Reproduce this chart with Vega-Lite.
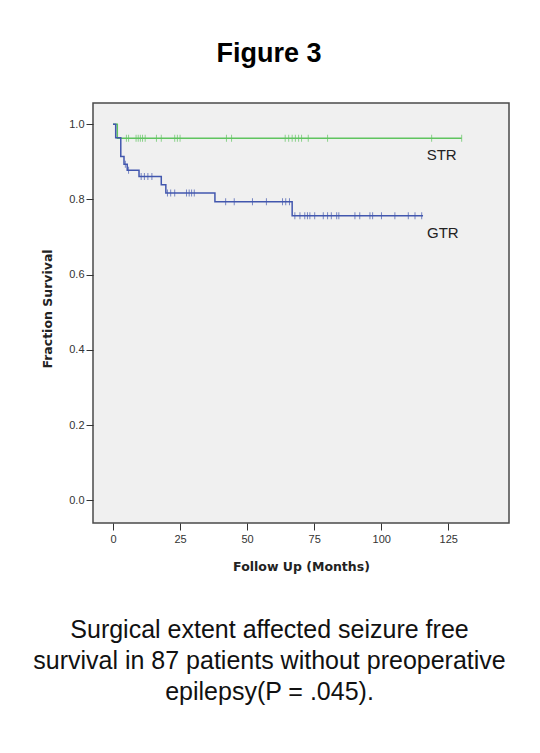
{
  "$schema": "https://vega.github.io/schema/vega-lite/v6.json",
  "width": 416,
  "height": 420,
  "autosize": {"type": "none"},
  "padding": {"left": 93, "top": 103, "right": 31, "bottom": 230},
  "background": "white",
  "view": {"fill": "#f0f0f0", "stroke": "#4a4a4a", "strokeWidth": 1.5},
  "title": {"text": "Figure 3", "font": "Liberation Sans", "fontSize": 27, "fontWeight": "bold", "color": "#000000", "anchor": "middle", "frame": "group", "dx": -32, "baseline": "alphabetic", "offset": 14.5},
  "datasets": {
    "curves": [
      {"group": "STR", "month": 0, "surv": 1.0},
      {"group": "STR", "month": 1.6, "surv": 0.963},
      {"group": "STR", "month": 130, "surv": 0.963},
      {"group": "GTR", "month": 0, "surv": 1.0},
      {"group": "GTR", "month": 1.0, "surv": 0.964},
      {"group": "GTR", "month": 2.9, "surv": 0.914},
      {"group": "GTR", "month": 4.1, "surv": 0.894},
      {"group": "GTR", "month": 5.3, "surv": 0.878},
      {"group": "GTR", "month": 9.7, "surv": 0.861},
      {"group": "GTR", "month": 18.0, "surv": 0.839},
      {"group": "GTR", "month": 19.7, "surv": 0.817},
      {"group": "GTR", "month": 38.0, "surv": 0.794},
      {"group": "GTR", "month": 66.8, "surv": 0.757},
      {"group": "GTR", "month": 115.6, "surv": 0.757}
    ],
    "censored": [
      {"group": "STR", "month": 5.0, "surv": 0.963},
      {"group": "STR", "month": 5.8, "surv": 0.963},
      {"group": "STR", "month": 8.6, "surv": 0.963},
      {"group": "STR", "month": 9.4, "surv": 0.963},
      {"group": "STR", "month": 10.2, "surv": 0.963},
      {"group": "STR", "month": 11.0, "surv": 0.963},
      {"group": "STR", "month": 12.0, "surv": 0.963},
      {"group": "STR", "month": 16.2, "surv": 0.963},
      {"group": "STR", "month": 18.0, "surv": 0.963},
      {"group": "STR", "month": 23.0, "surv": 0.963},
      {"group": "STR", "month": 24.0, "surv": 0.963},
      {"group": "STR", "month": 25.0, "surv": 0.963},
      {"group": "STR", "month": 42.3, "surv": 0.963},
      {"group": "STR", "month": 44.2, "surv": 0.963},
      {"group": "STR", "month": 64.2, "surv": 0.963},
      {"group": "STR", "month": 65.5, "surv": 0.963},
      {"group": "STR", "month": 66.8, "surv": 0.963},
      {"group": "STR", "month": 68.0, "surv": 0.963},
      {"group": "STR", "month": 69.2, "surv": 0.963},
      {"group": "STR", "month": 70.3, "surv": 0.963},
      {"group": "STR", "month": 72.8, "surv": 0.963},
      {"group": "STR", "month": 80.0, "surv": 0.963},
      {"group": "STR", "month": 118.8, "surv": 0.963},
      {"group": "STR", "month": 130.0, "surv": 0.963},
      {"group": "GTR", "month": 4.6, "surv": 0.894},
      {"group": "GTR", "month": 5.8, "surv": 0.878},
      {"group": "GTR", "month": 10.5, "surv": 0.861},
      {"group": "GTR", "month": 11.7, "surv": 0.861},
      {"group": "GTR", "month": 13.0, "surv": 0.861},
      {"group": "GTR", "month": 14.5, "surv": 0.861},
      {"group": "GTR", "month": 20.3, "surv": 0.817},
      {"group": "GTR", "month": 21.5, "surv": 0.817},
      {"group": "GTR", "month": 23.0, "surv": 0.817},
      {"group": "GTR", "month": 27.4, "surv": 0.817},
      {"group": "GTR", "month": 28.4, "surv": 0.817},
      {"group": "GTR", "month": 29.3, "surv": 0.817},
      {"group": "GTR", "month": 30.3, "surv": 0.817},
      {"group": "GTR", "month": 42.0, "surv": 0.794},
      {"group": "GTR", "month": 45.2, "surv": 0.794},
      {"group": "GTR", "month": 52.0, "surv": 0.794},
      {"group": "GTR", "month": 57.2, "surv": 0.794},
      {"group": "GTR", "month": 63.2, "surv": 0.794},
      {"group": "GTR", "month": 64.4, "surv": 0.794},
      {"group": "GTR", "month": 65.8, "surv": 0.794},
      {"group": "GTR", "month": 67.8, "surv": 0.757},
      {"group": "GTR", "month": 69.7, "surv": 0.757},
      {"group": "GTR", "month": 71.5, "surv": 0.757},
      {"group": "GTR", "month": 72.5, "surv": 0.757},
      {"group": "GTR", "month": 73.4, "surv": 0.757},
      {"group": "GTR", "month": 75.2, "surv": 0.757},
      {"group": "GTR", "month": 78.4, "surv": 0.757},
      {"group": "GTR", "month": 80.0, "surv": 0.757},
      {"group": "GTR", "month": 81.4, "surv": 0.757},
      {"group": "GTR", "month": 83.4, "surv": 0.757},
      {"group": "GTR", "month": 84.2, "surv": 0.757},
      {"group": "GTR", "month": 90.2, "surv": 0.757},
      {"group": "GTR", "month": 92.0, "surv": 0.757},
      {"group": "GTR", "month": 95.8, "surv": 0.757},
      {"group": "GTR", "month": 96.8, "surv": 0.757},
      {"group": "GTR", "month": 100.1, "surv": 0.757},
      {"group": "GTR", "month": 105.1, "surv": 0.757},
      {"group": "GTR", "month": 110.1, "surv": 0.757},
      {"group": "GTR", "month": 112.6, "surv": 0.757},
      {"group": "GTR", "month": 115.1, "surv": 0.757}
    ]
  },
  "resolve": {"axis": {"x": "independent", "y": "independent"}},
  "layer": [
    {
      "data": {"name": "curves"},
      "transform": [{"filter": "datum.group === 'STR'"}],
      "mark": {"type": "line", "interpolate": "step-after", "strokeWidth": 1.5},
      "encoding": {
        "x": {"field": "month", "type": "quantitative",
          "scale": {"domain": [-7.46, 147.65], "nice": false, "zero": false},
          "axis": {"values": [0, 25, 50, 75, 100, 125], "title": "Follow Up (Months)", "grid": false, "domain": false,
            "tickSize": 7, "tickColor": "#333333", "labelPadding": 3, "labelFont": "Liberation Sans", "labelFontSize": 11, "labelColor": "#333333",
            "titleFont": "DejaVu Sans", "titleFontSize": 12.5, "titleFontWeight": "bold", "titleColor": "#222222", "titleY": 47, "titleBaseline": "alphabetic"}},
        "y": {"field": "surv", "type": "quantitative",
          "scale": {"domain": [-0.0604, 1.0566], "nice": false, "zero": false},
          "axis": {"orient": "left", "values": [0, 0.2, 0.4, 0.6, 0.8, 1.0], "format": ".1f", "title": "Fraction Survival", "grid": false, "domain": false,
            "tickSize": 7, "tickColor": "#333333", "labelPadding": 2, "labelFont": "Liberation Sans", "labelFontSize": 11, "labelColor": "#333333",
            "titleFont": "DejaVu Sans", "titleFontSize": 12.5, "titleFontWeight": "bold", "titleColor": "#222222", "titleX": -45.5, "titleY": 205.5, "titleBaseline": "middle"}},
        "color": {"field": "group", "type": "nominal", "scale": {"domain": ["GTR", "STR"], "range": ["#4257ae", "#5fc45f"]}, "legend": null}
      }
    },
    {
      "data": {"name": "curves"},
      "transform": [{"filter": "datum.group === 'GTR'"}],
      "mark": {"type": "line", "interpolate": "step-after", "strokeWidth": 1.5},
      "encoding": {
        "x": {"field": "month", "type": "quantitative", "scale": {"domain": [-7.46, 147.65], "nice": false, "zero": false}, "axis": null},
        "y": {"field": "surv", "type": "quantitative", "scale": {"domain": [-0.0604, 1.0566], "nice": false, "zero": false}, "axis": null},
        "color": {"field": "group", "type": "nominal", "scale": {"domain": ["GTR", "STR"], "range": ["#4257ae", "#5fc45f"]}, "legend": null}
      }
    },
    {
      "data": {"name": "censored"},
      "mark": {"type": "tick", "orient": "vertical", "size": 7, "thickness": 1},
      "encoding": {
        "x": {"field": "month", "type": "quantitative", "scale": {"domain": [-7.46, 147.65], "nice": false, "zero": false}, "axis": null},
        "y": {"field": "surv", "type": "quantitative", "scale": {"domain": [-0.0604, 1.0566], "nice": false, "zero": false}, "axis": null},
        "color": {"field": "group", "type": "nominal", "scale": {"domain": ["GTR", "STR"], "range": ["#4257ae", "#5fc45f"]}, "legend": null}
      }
    },
    {
      "data": {"name": "curves"},
      "transform": [
        {"joinaggregate": [{"op": "max", "field": "month", "as": "maxMonth"}], "groupby": ["group"]},
        {"filter": "datum.month === datum.maxMonth && datum.group === 'STR'"}
      ],
      "mark": {"type": "text", "align": "right", "baseline": "alphabetic", "dx": -5, "dy": 22, "font": "Liberation Sans", "fontSize": 15, "color": "#222222"},
      "encoding": {
        "x": {"field": "month", "type": "quantitative", "scale": {"domain": [-7.46, 147.65], "nice": false, "zero": false}, "axis": null},
        "y": {"field": "surv", "type": "quantitative", "scale": {"domain": [-0.0604, 1.0566], "nice": false, "zero": false}, "axis": null},
        "text": {"field": "group"}
      }
    },
    {
      "data": {"name": "curves"},
      "transform": [
        {"joinaggregate": [{"op": "max", "field": "month", "as": "maxMonth"}], "groupby": ["group"]},
        {"filter": "datum.month === datum.maxMonth && datum.group === 'GTR'"}
      ],
      "mark": {"type": "text", "align": "left", "baseline": "alphabetic", "dx": 4, "dy": 22, "font": "Liberation Sans", "fontSize": 15, "color": "#222222"},
      "encoding": {
        "x": {"field": "month", "type": "quantitative", "scale": {"domain": [-7.46, 147.65], "nice": false, "zero": false},
          "axis": {"orient": "bottom", "domain": false, "ticks": false, "labels": false, "grid": false,
            "title": ["Surgical extent  affected seizure free", "survival in 87 patients without preoperative", "epilepsy(P = .045)."],
            "titleFont": "Liberation Sans", "titleFontSize": 25, "titleFontWeight": "normal", "titleColor": "#111111",
            "titleLineHeight": 30.7, "titleX": 176, "titleY": 114.7, "titleBaseline": "alphabetic", "titleAlign": "center"}},
        "y": {"field": "surv", "type": "quantitative", "scale": {"domain": [-0.0604, 1.0566], "nice": false, "zero": false}, "axis": null},
        "text": {"field": "group"}
      }
    }
  ]
}
